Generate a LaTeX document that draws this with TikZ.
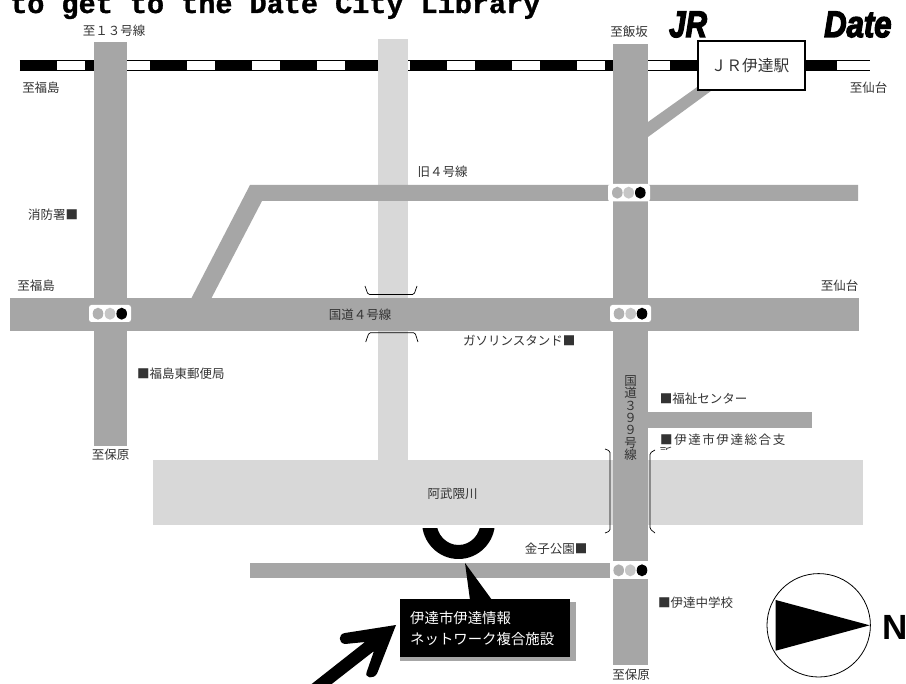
\documentclass[tikz,border=0pt]{standalone}
\usepackage{fontspec}
\setmainfont{Noto Sans CJK JP}
\newfontfamily\titlefont[FakeBold=1.2]{Liberation Mono}
\newfontfamily\latinfont{Liberation Sans}
\newfontfamily\dispfont[FakeBold=4]{Liberation Sans}
\definecolor{road}{HTML}{A6A6A6}
\definecolor{pale}{HTML}{D8D8D8}
\definecolor{lampa}{HTML}{B0B0B0}
\definecolor{lampb}{HTML}{C6C6C6}
\definecolor{ink}{HTML}{333333}
\tikzset{
  x=1pt,y=-1pt,
  mainroad/.style={fill=road,draw=none},
  paleroad/.style={fill=pale,draw=none},
  railbar/.style={fill=black,draw=none},
  railedge/.style={draw=black,line width=0.7pt},
  label/.style={font=\fontsize{12.5}{13}\selectfont,text=ink,inner sep=0pt,anchor=center},
  calloutlabel/.style={anchor=west,inner sep=0pt,text=white,font=\fontsize{14.4}{15}\selectfont},
  display/.style={anchor=base west,inner sep=0pt,font=\dispfont\bfseries\itshape\fontsize{37}{38}\selectfont},
  bracket/.style={draw=black,line width=0.7pt,rounded corners=1.5pt},
  sigbox/.style={fill=white,draw=none,rounded corners=2.5pt},
}
\newcommand{\signalat}[4]{%
  \fill[sigbox] (#1,#2) rectangle (#3,#4);
}
\newcommand{\lampsat}[4]{%
  \fill[lampa] (#1,#4) ellipse [x radius=5.3,y radius=6];
  \fill[lampb] (#2,#4) ellipse [x radius=5.3,y radius=6];
  \fill[black] (#3,#4) ellipse [x radius=5.3,y radius=6];
}
\begin{document}
\begin{tikzpicture}
\useasboundingbox (0,0) rectangle (906,684);
\fill[white] (0,0) rectangle (906,684);
% title
\node[anchor=base west,inner sep=0pt,font=\titlefont\bfseries\fontsize{28.5}{30}\selectfont] (title) at (10,13) {to get to the Date City Library};
\node[display,xscale=0.8] (jr) at (669,37) {JR};
\node[display,xscale=0.84] (date) at (824,37) {Date};
% railway
\draw[railedge] (19.5,60.3) -- (869.5,60.3);
\draw[railedge] (19.5,70.7) -- (869.5,70.7);
\foreach \xs in {19.5,84.5,149.5,215,280,345,410,475,540,605,670,735,800}
  \fill[railbar] (\xs,60.5) rectangle ++(37,10.5);
% pale road and river
\fill[paleroad] (378,39) rectangle (408,461);
\fill[paleroad] (153,460) rectangle (863,525);
% roads
\fill[mainroad] (94,42) rectangle (127,446);
\fill[mainroad] (250,185) -- (858,185) -- (858,201) -- (262,201) -- (211,299) -- (191,299) -- cycle;
\fill[mainroad] (10,298) rectangle (859,331);
\fill[mainroad] (613,44) rectangle (648,665);
\fill[mainroad] (648,122) -- (700,85) -- (715,88) -- (648,137) -- cycle;
\fill[mainroad] (648,412) rectangle (812,428);
\fill[mainroad] (250,563) rectangle (610,578);
% signals
\signalat{89}{305}{131}{322}
\lampsat{98}{110}{121.7}{313.7}
\signalat{608}{184}{650}{201.5}
\lampsat{617.3}{628.7}{640.3}{192.7}
\signalat{610}{305}{651}{322}
\lampsat{619}{630.7}{642}{313.7}
\fill[white] (610,561) rectangle (648,579);
\lampsat{618.7}{630.3}{642}{570.3}
% bridges
\draw[bracket] (365,286) -- (368,294.5) -- (414,294.5) -- (417,286);
\draw[bracket] (365.7,342) -- (369,332.7) -- (415,332.7) -- (418,342);
\draw[bracket] (605,449) -- (610,451) -- (610,531) -- (605,533);
\draw[bracket] (655,450) -- (650,453) -- (650,529) -- (655,533);
% library mark
\begin{scope}
\clip (400,529) rectangle (520,570);
\fill[black,even odd rule] (458.5,522) ellipse [x radius=36.5,y radius=37] (458.5,522) ellipse [x radius=22,y radius=23];
\end{scope}
% callout
\fill[road] (399.5,602) rectangle (575.7,661.5);
\fill[black] (399.5,599.5) rectangle (570,657);
\fill[black] (465,563) -- (470,600) -- (492,600) -- cycle;
\node[calloutlabel] (libname) at (410,618) {伊達市伊達情報};
\node[calloutlabel] (libnet) at (410,638.7) {ネットワーク複合施設};
% big arrow
\fill[black] (396,625) -- (345,633) .. controls (338,634) and (338,643) .. (345,644) -- (365,642) -- (304,690) -- (324,690) -- (374,651) -- (366.7,672) .. controls (364,678) and (374,680) .. (377.3,673) -- cycle;
% JR station
\node[draw=black,line width=2pt,fill=white,minimum width=107pt,minimum height=49pt,inner sep=0pt,font=\fontsize{15.7}{16}\selectfont,text=ink] (station) at (751.8,66) {\raisebox{-1.2pt}{ＪＲ伊達駅}\kern3.6pt};
% labels
\node[label] (l13) at (114,31) {至１３号線};
\node[label] (lfk1) at (41,88) {至福島};
\node[label] (lfire) at (53,215) {消防署■};
\node[label] (lfk2) at (36,286) {至福島};
\node[label] (lr4) at (360,315) {国道４号線};
\node[label] (lold) at (442.5,172) {旧４号線};
\node[label] (lii) at (629,32) {至飯坂};
\node[label] (lsen1) at (868.5,88) {至仙台};
\node[label] (lsen2) at (839.5,285.5) {至仙台};
\node[label,anchor=west] (lgas) at (463,341) {ガソリンスタンド■};
\node[label,anchor=west] (lpost) at (137,374) {■福島東郵便局};
\node[label] (lho1) at (110.5,455) {至保原};
\node[label] (lriver) at (452.5,493.7) {阿武隈川};
\node[label,anchor=west] (lpark) at (524.7,549) {金子公園■};
\node[label,anchor=west] (lwel) at (659.7,398.7) {■福祉センター};
\node[label,anchor=west] (lbr) at (660,439.7) {\addfontfeature{LetterSpace=12.6}■伊達市伊達総合支};
\begin{scope}
\clip (655,446.5) rectangle (680,450);
\node[label,anchor=north west] (lbr2) at (659.5,447) {所};
\end{scope}
\node[label,anchor=west] (lsch) at (658,602.7) {■伊達中学校};
\node[label] (lho2) at (631,675) {至保原};
\node[label,align=center,font=\fontsize{12.5}{12.3}\selectfont] (l399) at (630.7,418) {国\\道\\３\\９\\９\\号\\線};
% compass
\node[draw=black,line width=0.8pt,circle,minimum size=103.4pt,inner sep=0pt] (compass) at (818.7,625.3) {};
\fill[black] (775.7,600) -- (775.7,650.7) -- (869.7,625.3) -- cycle;
\node[inner sep=0pt,font=\latinfont\bfseries\fontsize{35}{36}\selectfont] (north) at (894.7,627) {N};
\end{tikzpicture}
\end{document}
